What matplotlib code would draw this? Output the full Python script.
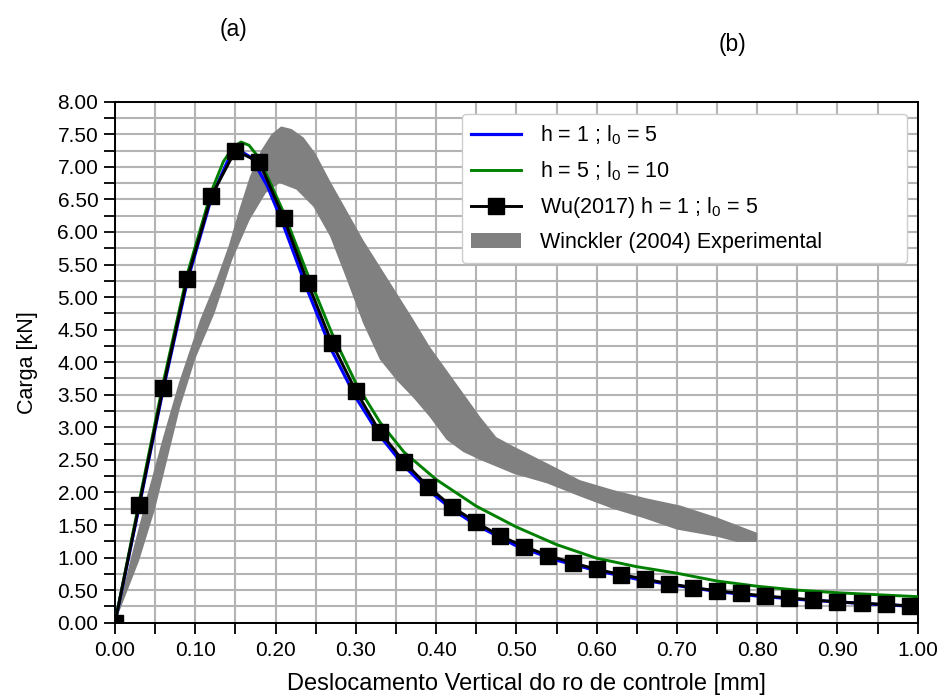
import numpy as np
import matplotlib
matplotlib.use('Agg')
from matplotlib import pyplot as plt
from matplotlib.ticker import MultipleLocator, FormatStrFormatter

plt.rcParams['font.family'] = ['Liberation Sans', 'DejaVu Sans']
plt.rcParams['mathtext.fontset'] = 'custom'
plt.rcParams['mathtext.rm'] = 'Liberation Sans'
plt.rcParams['mathtext.it'] = 'Liberation Sans'

# h = 1 ; l0 = 5  (blue)
x_h1 = [0.00, 0.03, 0.06, 0.09, 0.12, 0.14, 0.155, 0.17, 0.19, 0.21, 0.24, 0.27, 0.30,
        0.33, 0.36, 0.39, 0.42, 0.45, 0.50, 0.55, 0.60, 0.65, 0.70, 0.75, 0.80, 0.85,
        0.90, 0.95, 1.00]
y_h1 = [0.00, 1.78, 3.58, 5.24, 6.52, 7.08, 7.25, 7.14, 6.70, 6.10, 5.10, 4.18, 3.46,
        2.87, 2.41, 2.04, 1.74, 1.50, 1.18, 0.96, 0.80, 0.67, 0.57, 0.48, 0.41, 0.36,
        0.32, 0.28, 0.25]

# h = 5 ; l0 = 10  (green)
x_h5 = [0.00, 0.03, 0.06, 0.09, 0.12, 0.135, 0.147, 0.157, 0.167, 0.178, 0.19, 0.21,
        0.24, 0.27, 0.30, 0.33, 0.36, 0.40, 0.45, 0.50, 0.55, 0.60, 0.65, 0.70, 0.75,
        0.80, 0.85, 0.90, 0.95, 1.00]
y_h5 = [0.00, 1.85, 3.68, 5.35, 6.62, 7.08, 7.30, 7.38, 7.33, 7.16, 6.85, 6.30,
        5.35, 4.45, 3.68, 3.08, 2.62, 2.20, 1.79, 1.47, 1.20, 0.99, 0.86, 0.76, 0.64,
        0.56, 0.50, 0.46, 0.43, 0.40]

# Wu (2017) h = 1 ; l0 = 5
x_wu = [0.00, 0.03, 0.06, 0.09, 0.12, 0.15, 0.18, 0.21, 0.24, 0.27, 0.30, 0.33, 0.36,
        0.39, 0.42, 0.45, 0.48, 0.51, 0.54, 0.57, 0.60, 0.63, 0.66, 0.69, 0.72, 0.75,
        0.78, 0.81, 0.84, 0.87, 0.90, 0.93, 0.96, 0.99]
y_wu = [0.00, 1.80, 3.61, 5.28, 6.55, 7.25, 7.07, 6.22, 5.22, 4.30, 3.56, 2.93, 2.47,
        2.09, 1.78, 1.54, 1.33, 1.17, 1.03, 0.92, 0.82, 0.74, 0.67, 0.60, 0.54, 0.49,
        0.45, 0.41, 0.38, 0.35, 0.32, 0.30, 0.28, 0.26]

# Winckler (2004) experimental envelope
x_up = [0.00, 0.02, 0.04, 0.06, 0.08, 0.106, 0.126, 0.142, 0.155, 0.168, 0.182, 0.195,
        0.207, 0.22, 0.235, 0.25, 0.268, 0.289, 0.309, 0.33, 0.351, 0.372, 0.392,
        0.413, 0.434, 0.455, 0.475, 0.496, 0.538, 0.579, 0.62, 0.662, 0.704, 0.749,
        0.783, 0.80]
y_up = [0.00, 1.00, 1.95, 2.85, 3.70, 4.65, 5.25, 5.80, 6.35, 6.85, 7.25, 7.50,
        7.62, 7.58, 7.45, 7.20, 6.78, 6.32, 5.88, 5.47, 5.06, 4.65, 4.24,
        3.88, 3.52, 3.16, 2.85, 2.71, 2.45, 2.19, 2.04, 1.91, 1.80, 1.62,
        1.46, 1.38]
x_lo = [0.00, 0.03, 0.05, 0.065, 0.081, 0.10, 0.124, 0.146, 0.168, 0.188, 0.205,
        0.226, 0.247, 0.268, 0.289, 0.309, 0.33, 0.351, 0.372, 0.392, 0.413, 0.434,
        0.455, 0.496, 0.538, 0.579, 0.62, 0.66, 0.70, 0.75, 0.775, 0.80]
y_lo = [0.00, 0.95, 1.75, 2.50, 3.30, 4.05, 4.75, 5.57, 6.19, 6.60, 6.75,
        6.65, 6.39, 5.93, 5.26, 4.60, 4.04, 3.72, 3.45, 3.16, 2.81, 2.62,
        2.50, 2.29, 2.14, 1.94, 1.75, 1.60, 1.43, 1.32, 1.24, 1.24]

fig = plt.figure(figsize=(9.44, 6.95), dpi=100)
ax = fig.add_axes([0.1218, 0.104, 0.8504, 0.7497])

band_x = np.concatenate([x_up, x_lo[::-1]])
band_y = np.concatenate([y_up, y_lo[::-1]])
ax.fill(band_x, band_y, color='#808080', lw=0, zorder=2,
        label='Winckler (2004) Experimental')

ax.plot(x_h1, y_h1, color='#0000ff', lw=2.3, zorder=3, label=r'h = 1 ; l$_0$ = 5')
ax.plot(x_h5, y_h5, color='#008000', lw=2.1, zorder=3, label=r'h = 5 ; l$_0$ = 10')
ax.plot(x_wu, y_wu, color='black', lw=2.1, marker='s', ms=11, zorder=4,
        label=r'Wu(2017) h = 1 ; l$_0$ = 5')

ax.set_xlim(0, 1)
ax.set_ylim(0, 8)
ax.xaxis.set_major_locator(MultipleLocator(0.1))
ax.xaxis.set_minor_locator(MultipleLocator(0.05))
ax.yaxis.set_major_locator(MultipleLocator(0.5))
ax.yaxis.set_minor_locator(MultipleLocator(0.25))
ax.xaxis.set_major_formatter(FormatStrFormatter('%.2f'))
ax.yaxis.set_major_formatter(FormatStrFormatter('%.2f'))
ax.tick_params(which='both', direction='out', length=8, width=1.3, labelsize=15)
ax.tick_params(axis='x', pad=5)
ax.tick_params(axis='y', pad=4)
ax.grid(which='both', color='#b4b4b4', lw=1.5, zorder=0)
ax.set_axisbelow(True)
for s in ax.spines.values():
    s.set_linewidth(1.4)

ax.set_xlabel('Deslocamento Vertical do ro de controle [mm]', fontsize=17)
ax.xaxis.set_label_coords(0.513, -0.097)
ax.set_ylabel('Carga [kN]', fontsize=15.5, labelpad=14)

handles, labels = ax.get_legend_handles_labels()
order = [1, 2, 3, 0]
ax.legend([handles[i] for i in order], [labels[i] for i in order],
          loc='upper left', bbox_to_anchor=(0.432, 0.0, 0.555, 0.976), mode='expand',
          fontsize=15.5, handlelength=2.3, labelspacing=0.56, borderpad=0.45,
          handletextpad=0.9, borderaxespad=0.0,
          framealpha=1, edgecolor='#cccccc', fancybox=True)

fig.text(0.247, 0.957, '(a)', fontsize=16.5, ha='center', va='center')
fig.text(0.776, 0.936, '(b)', fontsize=16.5, ha='center', va='center')

fig.savefig('out.png', dpi=100)
